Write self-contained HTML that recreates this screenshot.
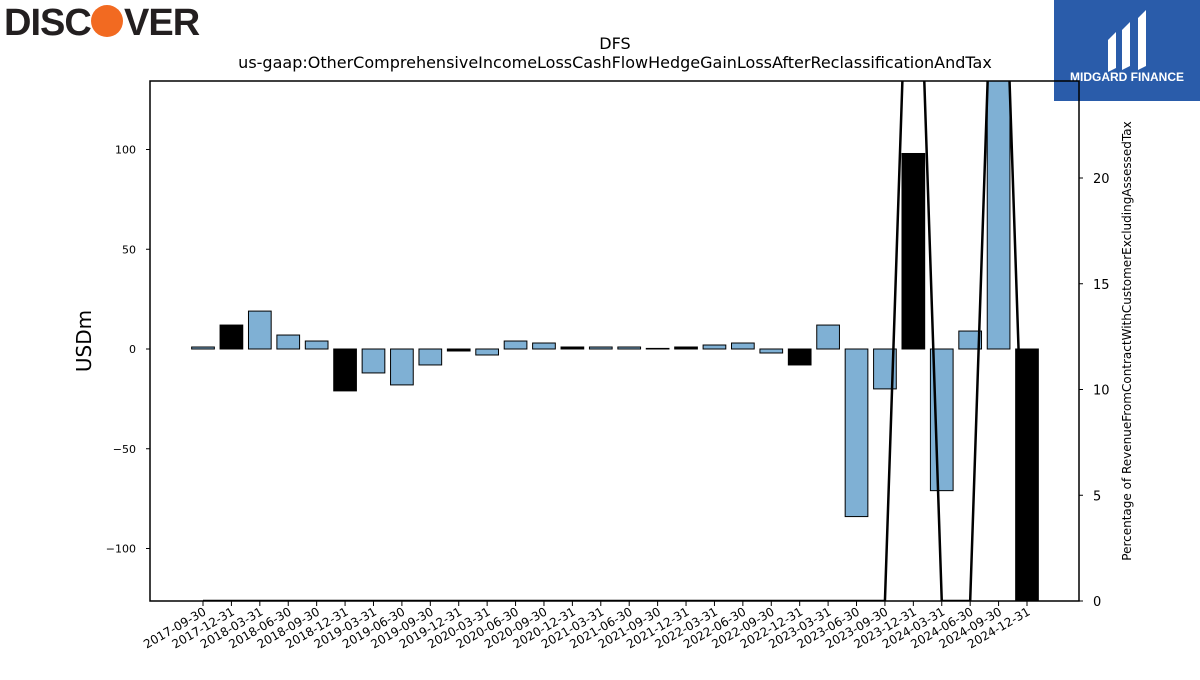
<!DOCTYPE html>
<html><head><meta charset="utf-8"><style>
body{margin:0;background:#fff;font-family:"Liberation Sans","DejaVu Sans",sans-serif}
</style></head><body>
<svg id="c" width="1200" height="675" xmlns="http://www.w3.org/2000/svg" style="font-family:'DejaVu Sans','Liberation Sans',sans-serif">
<g>
<text x="4" y="35" font-size="38" font-weight="bold" fill="#231f20" font-family="Liberation Sans, sans-serif" letter-spacing="-1">DISC</text>
<circle cx="107" cy="21" r="16" fill="#f26a21"/>
<text x="124" y="35" font-size="38" font-weight="bold" fill="#231f20" font-family="Liberation Sans, sans-serif" letter-spacing="-1">VER</text>
</g>
<g>
<rect x="1054" y="0" width="146" height="101" fill="#2a5caa"/>
<path d="M1108 40 L1116 32 L1116 68 L1108 72 Z M1122 30 L1130 22 L1130 66 L1122 70 Z M1138 18 L1146 10 L1146 66 L1138 70 Z" fill="#fff"/>
<text x="1127" y="81" font-size="12" font-weight="bold" fill="#fff" text-anchor="middle" font-family="Liberation Sans, sans-serif">MIDGARD FINANCE</text>
</g>
<text x="615" y="49" font-size="16" text-anchor="middle">DFS</text>
<text x="615" y="68" font-size="16" text-anchor="middle">us-gaap:OtherComprehensiveIncomeLossCashFlowHedgeGainLossAfterReclassificationAndTax</text>
<text transform="translate(91,341) rotate(-90)" font-size="20" text-anchor="middle">USDm</text>
<text transform="translate(1131,341) rotate(-90)" font-size="12" text-anchor="middle">Percentage of RevenueFromContractWithCustomerExcludingAssessedTax</text>
<g id="plot"></g>
</svg>
<script>
const categories=["2017-09-30","2017-12-31","2018-03-31","2018-06-30","2018-09-30","2018-12-31","2019-03-31","2019-06-30","2019-09-30","2019-12-31","2020-03-31","2020-06-30","2020-09-30","2020-12-31","2021-03-31","2021-06-30","2021-09-30","2021-12-31","2022-03-31","2022-06-30","2022-09-30","2022-12-31","2023-03-31","2023-06-30","2023-09-30","2023-12-31","2024-03-31","2024-06-30","2024-09-30","2024-12-31"];
const values=[1,12,19,7,4,-21,-12,-18,-8,-1,-3,4,3,1,1,1,0.3,1,2,3,-2,-8,12,-84,-20,98,-71,9,150,-130];
const pctValues=[0,0,0,0,0,0,0,0,0,0,0,0,0,0,0,0,0,0,0,0,0,0,0,0,0,40,0,0,40,0];
const leftTicks=[-100,-50,0,50,100];
const rightTicks=[0,5,10,15,20];
const L=150,R=1079,T=81,B=601;
const x=i=>203+i*(1027-203)/29;
const y=v=>349-v*1.995;
const y2=v=>601-v*21.15;
const NS="http://www.w3.org/2000/svg";
const svg=document.getElementById('c');
const g=document.getElementById('plot');
function mk(t,a,p){const e=document.createElementNS(NS,t);for(const k in a)e.setAttribute(k,a[k]);(p||g).appendChild(e);return e;}
const defs=mk('defs',{},svg);
const cp=mk('clipPath',{id:'clip'},defs);
mk('rect',{x:L,y:T,width:R-L,height:B-T},cp);
const bars=mk('g',{'clip-path':'url(#clip)'});


const bw=22.7;
categories.forEach((c,i)=>{
 const v=values[i];const q4=c.endsWith('12-31');
 const r=mk('rect',{x:x(i)-bw/2,y:Math.min(y(v),y(0)),width:bw,height:Math.abs(y(v)-y(0)),fill:q4?'#000':'#7fb0d4',stroke:'#000','stroke-width':1},bars);
 
 
});
const pts=pctValues.map((v,i)=>x(i)+','+y2(v)).join(' ');
const ln=mk('polyline',{points:pts,fill:'none',stroke:'#000','stroke-width':2.5},bars);


const fr=mk('rect',{x:L,y:T,width:R-L,height:B-T,fill:'none',stroke:'#000','stroke-width':1.5});


leftTicks.forEach(t=>{
 mk('line',{x1:L-4,x2:L,y1:y(t),y2:y(t),stroke:'#000'});
 const tx=mk('text',{x:L-14,y:y(t)+4,'font-size':11,'text-anchor':'end'});
 tx.textContent=t<0?'\u2212'+(-t):t;
 
 
});
rightTicks.forEach(t=>{
 mk('line',{x1:R,x2:R+4,y1:y2(t),y2:y2(t),stroke:'#000'});
 const tx=mk('text',{x:R+14,y:y2(t)+5,'font-size':13});
 tx.textContent=t;
 
 
});
categories.forEach((c,i)=>{
 mk('line',{x1:x(i),x2:x(i),y1:B,y2:B+5,stroke:'#000'});
 const tx=mk('text',{transform:`translate(${x(i)+4},${B+13}) rotate(-30)`,'font-size':12,'text-anchor':'end'});
 tx.textContent=c;
 
 
});
</script>
</body></html>
